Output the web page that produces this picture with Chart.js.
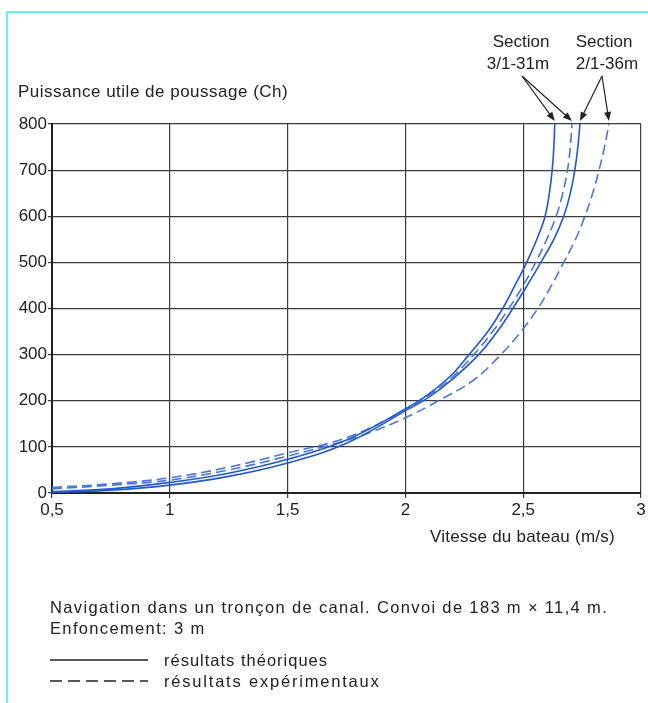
<!DOCTYPE html>
<html lang="fr">
<head>
<meta charset="UTF-8">
<title>Puissance utile de poussage</title>
<script src="https://cdn.jsdelivr.net/npm/chart.js"></script>
<style>
  html, body { margin: 0; padding: 0; background: #fff; }
  body {
    width: 648px; height: 703px; position: relative; overflow: hidden;
    font-family: "Liberation Sans", Arial, sans-serif; color: #222;
  }
  .frame {
    position: absolute; left: 6px; top: 11px; width: 650px; height: 700px;
    border-top: 2px solid #62f2f2; border-left: 2px solid #62f2f2;
  }
  #box { position: absolute; left: 0; top: 0; width: 648px; height: 703px; }
  .txt { position: absolute; font-size: 17px; line-height: 20px; white-space: nowrap; }
  .c { text-align: center; width: 120px; }
  .foot { font-size: 16.5px; letter-spacing: 1.35px; }
  .legend-line { position: absolute; left: 50px; }
</style>
</head>
<body>
<div class="frame"></div>
<div id="box"><canvas id="myChart" width="648" height="703"></canvas></div>

<div class="txt" style="left:18px; top:82px; letter-spacing:0.5px;">Puissance utile de poussage (Ch)</div>
<div class="txt c" style="left:461px; top:32px;">Section</div>
<div class="txt c" style="left:458px; top:54px;">3/1-31m</div>
<div class="txt c" style="left:544px; top:32px;">Section</div>
<div class="txt c" style="left:547px; top:54px;">2/1-36m</div>
<div class="txt" style="left:430px; top:527px; letter-spacing:0.25px;">Vitesse du bateau (m/s)</div>

<div class="txt foot" style="left:50px; top:597px;">Navigation dans un tronçon de canal. Convoi de 183 m × 11,4 m.</div>
<div class="txt foot" style="left:50px; top:618px;">Enfoncement: 3 m</div>
<svg class="legend-line" style="top:654px;" width="100" height="12"><line x1="0" y1="6" x2="98" y2="6" stroke="#222" stroke-width="1.5"/></svg>
<div class="txt foot" style="left:164px; top:650px; letter-spacing:1px;">résultats théoriques</div>
<svg class="legend-line" style="top:675px;" width="100" height="12"><line x1="0" y1="6" x2="98" y2="6" stroke="#222" stroke-width="1.5" stroke-dasharray="12 6"/></svg>
<div class="txt foot" style="left:164px; top:671px; letter-spacing:1.8px;">résultats expérimentaux</div>

<script>
// axes
const xTicks = [0.5, 1, 1.5, 2, 2.5, 3];
const yTicks = [0, 100, 200, 300, 400, 500, 600, 700, 800];

// Section 3/1-31m, théorique (vitesse m/s -> puissance Ch)
const speedTh31 = [0.5, 0.75, 1.0, 1.25, 1.5, 1.75, 2.0, 2.1, 2.2, 2.27, 2.35, 2.413, 2.465, 2.515, 2.558, 2.593, 2.611, 2.623, 2.630, 2.634];
const powerTh31 = [3, 9, 23, 43, 73, 115, 182, 215, 258, 300, 350, 400, 450, 500, 550, 600, 650, 700, 750, 800];
// Section 3/1-31m, expérimental
const speedEx31 = [0.5, 0.75, 1.0, 1.25, 1.5, 1.75, 2.0, 2.1, 2.2, 2.29, 2.37, 2.439, 2.5, 2.553, 2.6, 2.64, 2.668, 2.688, 2.7, 2.707];
const powerEx31 = [12, 20, 33, 56, 87, 120, 180, 212, 252, 300, 350, 400, 450, 500, 550, 600, 650, 700, 750, 800];
// Section 2/1-36m, théorique
const speedTh36 = [0.5, 0.75, 1.0, 1.25, 1.5, 1.75, 2.0, 2.1, 2.2, 2.311, 2.39, 2.456, 2.517, 2.575, 2.63, 2.672, 2.7, 2.719, 2.732, 2.741];
const powerTh36 = [1, 6, 17, 36, 65, 108, 178, 208, 247, 300, 350, 400, 450, 500, 550, 600, 650, 700, 750, 800];
// Section 2/1-36m, expérimental
const speedEx36 = [0.5, 0.75, 1.0, 1.25, 1.5, 1.75, 1.87, 2.0, 2.14, 2.29, 2.405, 2.49, 2.562, 2.62, 2.672, 2.722, 2.762, 2.795, 2.822, 2.845, 2.864];
const powerEx36 = [9, 17, 28, 50, 80, 114, 135, 163, 200, 245, 300, 350, 400, 450, 500, 550, 600, 650, 700, 750, 800];

const solidBlue = '#1f58cf';
const dashBlue = '#4a78d4';

function pts(xs, ys) {
    return xs.map((v, i) => ({ x: v, y: ys[i] }));
}

function curve(xs, ys, color, dashed) {
    return {
        data: pts(xs, ys),
        borderColor: color,
        borderWidth: 1.6,
        borderDash: dashed ? [10, 5] : [],
        pointRadius: 0,
        fill: false,
        tension: 0.4
    };
}

// flèches des étiquettes "Section" vers le haut des courbes
const arrows = {
    id: 'arrows',
    afterDatasetsDraw(chart) {
        const { ctx, scales } = chart;
        const groups = [
            { from: [522, 76], sets: [0, 1] },
            { from: [602, 76], sets: [2, 3] }
        ];
        ctx.save();
        ctx.strokeStyle = '#222';
        ctx.fillStyle = '#222';
        ctx.lineWidth = 1.2;
        groups.forEach(g => {
            g.sets.forEach(i => {
                const d = chart.data.datasets[i].data;
                const last = d[d.length - 1];
                const hx = scales.x.getPixelForValue(last.x);
                const hy = scales.y.getPixelForValue(last.y) - 3;
                const [fx, fy] = g.from;
                const a = Math.atan2(hy - fy, hx - fx);
                ctx.beginPath();
                ctx.moveTo(fx, fy);
                ctx.lineTo(hx - 6 * Math.cos(a), hy - 6 * Math.sin(a));
                ctx.stroke();
                ctx.beginPath();
                ctx.moveTo(hx, hy);
                ctx.lineTo(hx - 9 * Math.cos(a) + 3.5 * Math.sin(a), hy - 9 * Math.sin(a) - 3.5 * Math.cos(a));
                ctx.lineTo(hx - 9 * Math.cos(a) - 3.5 * Math.sin(a), hy - 9 * Math.sin(a) + 3.5 * Math.cos(a));
                ctx.closePath();
                ctx.fill();
            });
        });
        ctx.restore();
    }
};

const ctx = document.getElementById('myChart').getContext('2d');
const myChart = new Chart(ctx, {
    type: 'line',
    data: {
        datasets: [
            curve(speedTh31, powerTh31, solidBlue, false),
            curve(speedEx31, powerEx31, dashBlue, true),
            curve(speedTh36, powerTh36, solidBlue, false),
            curve(speedEx36, powerEx36, dashBlue, true)
        ]
    },
    options: {
        responsive: false,
        animation: false,
        layout: { padding: { top: 124, right: 7, bottom: 180, left: 0 } },
        plugins: { legend: { display: false }, tooltip: { enabled: false } },
        scales: {
            x: {
                type: 'linear',
                min: 0.5,
                max: 3,
                afterBuildTicks: s => { s.ticks = xTicks.map(v => ({ value: v })); },
                afterFit: s => { s.height = 30; },
                ticks: {
                    color: '#222',
                    font: { family: 'Liberation Sans', size: 17 },
                    padding: 2,
                    maxRotation: 0,
                    callback: v => String(v).replace('.', ',')
                },
                grid: { color: '#3c3c3c', lineWidth: 1.2, tickLength: 5 },
                border: { color: '#222', width: 2 }
            },
            y: {
                min: 0,
                max: 800,
                afterBuildTicks: s => { s.ticks = yTicks.map(v => ({ value: v })); },
                afterFit: s => { s.width = 52; },
                ticks: {
                    color: '#222',
                    font: { family: 'Liberation Sans', size: 17 },
                    padding: 1
                },
                grid: { color: '#3c3c3c', lineWidth: 1.2, tickLength: 4 },
                border: { color: '#222', width: 2 }
            }
        }
    },
    plugins: [arrows]
});
</script>
</body>
</html>
